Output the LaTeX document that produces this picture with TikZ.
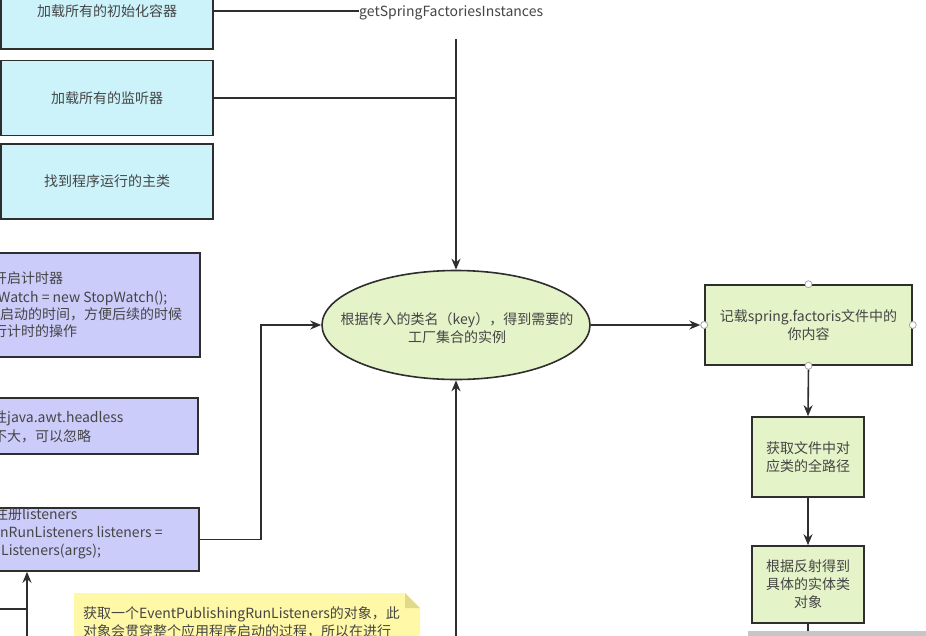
\documentclass[tikz,border=0pt]{standalone}
\usepackage{fontspec}
\setmainfont{Noto Sans CJK SC}
\usetikzlibrary{arrows.meta,shapes.geometric}

\definecolor{edge}{HTML}{2E2E2E}
\definecolor{ink}{HTML}{454545}
\definecolor{cyanfill}{HTML}{CCF3FA}
\definecolor{purplefill}{HTML}{CCCCFB}
\definecolor{greenfill}{HTML}{E4F3C8}
\definecolor{notefill}{HTML}{FFF8A6}
\definecolor{notefold}{HTML}{E0D88A}

\begin{document}
\begin{tikzpicture}[x=1pt,y=-1pt,
  basebox/.style={draw=edge, line width=1.6pt, inner sep=0pt, text=ink,
    font=\fontsize{14}{18}\selectfont, align=center},
  cyanbox/.style={basebox, fill=cyanfill, minimum width=212pt},
  purplebox/.style={basebox, fill=purplefill},
  greenbox/.style={basebox, fill=greenfill},
  label/.style={text=ink, inner sep=0pt, anchor=west,
    font=\fontsize{14}{18}\selectfont, text height=12pt, text depth=2pt},
  centred/.style={text=ink, inner sep=0pt, align=center,
    font=\fontsize{14}{18}\selectfont},
  link/.style={draw=edge, line width=1.6pt},
  arr/.style={link, -{Stealth[length=11pt,width=9pt]}},
  handle/.style={circle, draw=gray!70, fill=white, line width=0.8pt,
    inner sep=0pt, minimum size=7pt}
]
\useasboundingbox (0,0) rectangle (926,635);
\clip (0,0) rectangle (926,635);
\fill[white] (0,0) rectangle (926,635);

% ---- loading steps (cyan) ----
\node[cyanbox, minimum height=76pt] (b1) at (107,11) {加载所有的初始化容器};
\node[cyanbox, minimum height=75pt] (b2) at (107,98) {加载所有的监听器};
\node[cyanbox, minimum height=75pt] (b3) at (107,181.5) {找到程序运行的主类};

\node[label] (gsfi) at (359,11) {getSpringFactoriesInstances};
\draw[link] (b1.east) -- (gsfi.west);

% ---- run() steps (purple) ----
\node[purplebox, minimum width=220pt, minimum height=104pt] (p1) at (90,305) {};
\node[label] (p1a) at (-7,278) {开启计时器};
\node[label] (p1b) at (-2,297) {Watch = new StopWatch();};
\node[label] (p1c) at (0,314) {启动的时间，方便后续的时候};
\node[label] (p1d) at (-7,331) {行计时的操作};

\node[purplebox, minimum width=218pt, minimum height=56pt] (p2) at (89,426) {};
\node[label] (p2a) at (-7,417) {性java.awt.headless};
\node[label] (p2b) at (-7,436) {不大，可以忽略};

\node[purplebox, minimum width=220pt, minimum height=63pt] (p3) at (89,539.5) {};
\node[label] (p3a) at (-6,514) {注册listeners};
\node[label] (p3b) at (0,532) {nRunListeners listeners =};
\node[label] (p3c) at (1,550) {Listeners(args);};

% ---- factory lookup ----
\node[greenbox, ellipse, minimum width=268pt, minimum height=109pt] (ell) at (456,325) {};
\node[centred] (elltext) at (457,328)
  {根据传入的类名（key），得到需要的\\工厂集合的实例};

\node[greenbox, minimum width=207pt, minimum height=80pt] (r1) at (808.5,325)
  {记载spring.factoris文件中的\\你内容};
\node[greenbox, minimum width=112pt, minimum height=80pt] (r2) at (808,457)
  {获取文件中对\\应类的全路径};
\node[greenbox, minimum width=112pt, minimum height=77pt] (r3) at (808,584.5)
  {根据反射得到\\具体的实体类\\对象};

% selection handles on the active shape
\foreach \a in {north,south,east,west}
  \node[handle] (h-\a) at (r1.\a) {};

% ---- connectors ----
\coordinate (vtop) at (456,39);
\coordinate (j2) at (456,98);
\coordinate (k) at (261,539.5);
\coordinate (vbot) at (456,640);
\coordinate (rbot) at (808,640);
\coordinate (lbot) at (27,640);
\coordinate (lj) at (27,609);
\coordinate (lleft) at (-5,609);

\draw[arr] (vtop) -- (ell.north);
\draw[link] (b2.east) -- (j2);
\draw[arr] (p3.east) -- (k) |- (ell.west);
\draw[arr] (vbot) -- (ell.south);
\draw[arr] (ell.east) -- (h-west);
\draw[arr] (h-south) -- (r2.north);
\draw[arr] (r2.south) -- (r3.north);
\draw[link] (r3.south) -- (rbot);
\draw[arr] (lbot) -- (lbot |- p3.south);
\draw[link] (lleft) -- (lj);

% ---- note ----
\fill[notefill] (74,593) -- (405,593) -- (420,608) -- (420,640) -- (74,640) -- cycle;
\fill[notefold] (405,593) -- (405,608) -- (420,608) -- cycle;
\node[label] (n1) at (83,613) {获取一个EventPublishingRunListeners的对象，此};
\node[label] (n2) at (83,631) {对象会贯穿整个应用程序启动的过程，所以在进行};

% status strip along the lower edge
\fill[gray!45] (748,631) rectangle (926,636);
\end{tikzpicture}
\end{document}
